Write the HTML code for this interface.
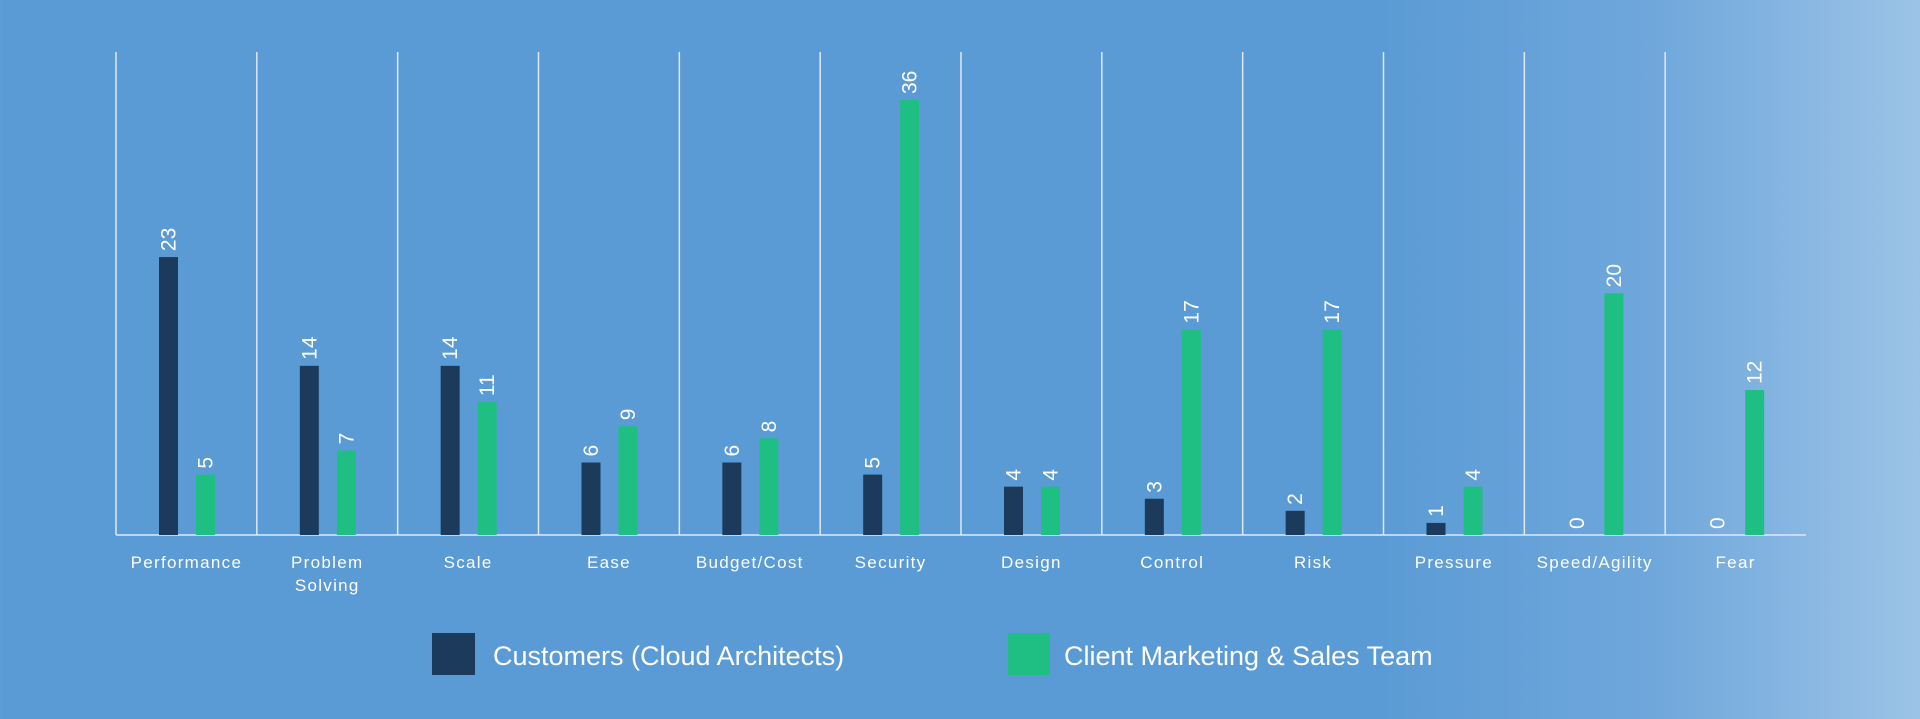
<!DOCTYPE html>
<html><head><meta charset="utf-8"><style>
html,body{margin:0;padding:0}
body{width:1920px;height:714px;overflow:hidden;background:linear-gradient(90deg,#5b9bd5 0%,#5b9bd5 72%,#6fa7db 86%,#9cc3e7 100%);font-family:"Liberation Sans",sans-serif}
svg text{font-family:"Liberation Sans",sans-serif;fill:#fff}
</style></head><body>
<svg id="chart" width="1920" height="714" xmlns="http://www.w3.org/2000/svg">
<g id="grid"></g>
<g id="bars"></g>
<g id="labels"></g>
<g id="cats"></g>
<g>
<rect x="432" y="633" width="43" height="42" fill="#1b3a5c"/>
<text x="493" y="665" font-size="27">Customers (Cloud Architects)</text>
<rect x="1008" y="633" width="42" height="42" fill="#1fbf83"/>
<text x="1064" y="665" font-size="27">Client Marketing &amp; Sales Team</text>
</g>
</svg>
<script>
const categories=["Performance","Problem|Solving","Scale","Ease","Budget/Cost","Security","Design","Control","Risk","Pressure","Speed/Agility","Fear"];
const customers=[23,14,14,6,6,5,4,3,2,1,0,0];
const client=[5,7,11,9,8,36,4,17,17,4,20,12];
{
const NS="http://www.w3.org/2000/svg";
const pL=116,pR=1806,pBase=535,pTop=52,catW=(pR-pL)/12,perUnit=(pBase-100)/36;
const xs=i=>pL+i*catW;
const ys=v=>pBase-v*perUnit;
function mk(tag,attrs,parent){const e=document.createElementNS(NS,tag);for(const k in attrs)e.setAttribute(k,attrs[k]);document.getElementById(parent).appendChild(e);return e;}
for(let i=0;i<12;i++){
  const l=mk('line',{x1:xs(i),x2:xs(i),y1:pTop,y2:pBase,stroke:'#dce9f6','stroke-width':1.5},'grid');
  
  
}
const ax=mk('line',{x1:pL,x2:pR,y1:pBase,y2:pBase,stroke:'#dce9f6','stroke-width':1.5},'grid');


function series(vals,off,color,name){
  vals.forEach((v,i)=>{
    const bx=xs(i)+off;
    const r=mk('rect',{x:bx,y:ys(v),width:19,height:v*perUnit,fill:color},'bars');
    
    
    const cx=bx+9.5+7,ty=ys(v)-6;
    const t=mk('text',{x:cx,y:ty,'font-size':21,transform:`rotate(-90 ${cx} ${ty})`},'labels');
    
    
    t.textContent=v;
  });
}
series(customers,43,'#1b3a5c','customers');
series(client,80,'#1fbf83','client');
categories.forEach((c,i)=>{
  c.split('|').forEach((ln,j)=>{
    const t=mk('text',{x:xs(i)+catW/2,y:568+j*23,'font-size':17,'text-anchor':'middle','letter-spacing':'1.3'},'cats');
    
    
    t.textContent=ln;
  });
});
}
</script>
</body></html>
